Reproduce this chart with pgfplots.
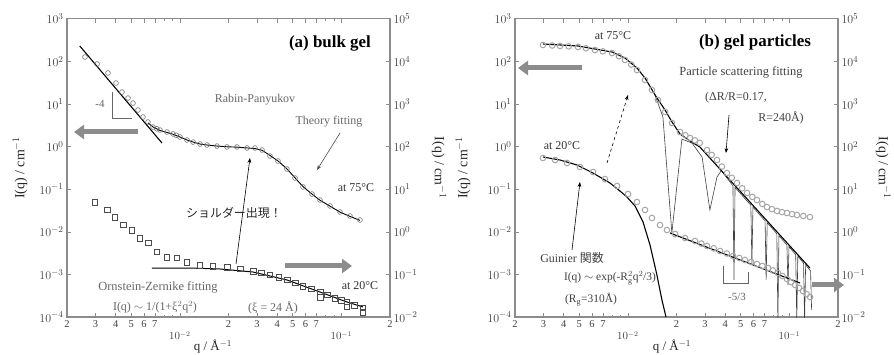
\documentclass[border=0pt]{standalone}
\usepackage{fontspec}
\setmainfont{Liberation Serif}
\newfontfamily\jp{Noto Sans CJK JP}
\usepackage{pgfplots}
\pgfplotsset{compat=1.18}
\usetikzlibrary{arrows.meta}
\definecolor{framegray}{gray}{0.55}
\definecolor{ann}{gray}{0.40}
\begin{document}
\begin{tikzpicture}
\useasboundingbox (0,0) rectangle (894bp,355bp);
% ================= (a) bulk gel =================
\begin{axis}[xmode=log, ymode=log, scale only axis, width=323bp, height=298.2bp,
    xmin=2e-3, xmax=0.2, ymin=1e-4, ymax=1e3, anchor=south west, at={(67bp,38bp)},
    axis line style={framegray, line width=1.2bp},
    tick style={framegray, line width=0.6bp},
    major tick length=4bp, minor tick length=2.5bp,
    xtick={0.002,0.003,0.004,0.005,0.006,0.007,0.02,0.03,0.04,0.05,0.06,0.07,0.2},
    xticklabels={2,3,4,5,6,7,2,3,4,5,6,7,2},
    minor xtick={0.008,0.009,0.08,0.09},
    extra x ticks={0.01,0.1},
    extra x tick labels={$10^{-2}$,$10^{-1}$},
    extra x tick style={tick label style={font=\fontsize{13}{14}\selectfont, yshift=-11bp}},
    x tick label style={font=\fontsize{10.5}{11}\selectfont, text=black!75},
    y tick label style={font=\fontsize{13}{14}\selectfont, text=black!75},
    ytick={1e-4,1e-3,1e-2,1e-1,1,10,100,1000}, yminorticks=false,
    ytick pos=left,
    label style={font=\fontsize{14}{15}\selectfont, text=black!85},
    ylabel={I(q) / cm$^{-1}$},
    xlabel={q / Å$^{-1}$},
    xlabel style={at={(axis description cs:0.452,0)}, anchor=center, font=\fontsize{13}{14}\selectfont, yshift=-30bp},
    ylabel style={at={(axis description cs:-0.1455,0.5)}, anchor=center}]
\addplot[black, line width=1.1bp] coordinates {(0.00240,230) (0.00774,1.22)};
\addplot[only marks, mark=o, mark size=2.4bp, black!55, mark options={line width=0.6bp}] coordinates {
(0.002585,126.8)(0.003069,86.9)(0.003589,53.5)(0.004022,31.1)(0.004381,19.1)(0.004773,13.8)(0.005126,10.5)(0.005502,7.23)(0.005908,4.95)(0.006345,3.78)(0.006815,2.88)(0.007200,2.62)(0.007532,2.45)(0.008321,2.20)(0.009064,1.98)(0.009500,1.85)(0.010016,1.68)(0.011066,1.43)(0.012059,1.28)(0.013323,1.15)(0.014720,1.09)(0.016975,1.03)(0.019573,0.98)(0.022573,0.98)(0.026033,0.927)(0.029178,0.927)(0.032247,0.832)(0.036141,0.601)(0.040503,0.459)(0.046036,0.298)(0.051616,0.183)(0.057848,0.113)(0.065766,0.0771)(0.073737,0.0557)(0.085020,0.0404)(0.09804,0.0292)(0.11304,0.0235)(0.13033,0.0189)};
\addplot[black, line width=0.9bp] coordinates {
(0.006345,3.6)(0.006815,2.9)(0.007532,2.4)(0.008321,2.15)(0.009064,1.95)(0.010016,1.68)(0.011066,1.43)(0.012059,1.28)(0.013323,1.15)(0.014720,1.09)(0.016975,1.03)(0.019573,0.99)(0.022573,0.97)(0.026033,0.93)(0.029178,0.90)(0.032247,0.82)(0.036141,0.62)(0.040503,0.46)(0.046036,0.30)(0.051616,0.185)(0.057848,0.115)(0.065766,0.077)(0.073737,0.055)(0.085020,0.040)(0.09804,0.029)(0.11304,0.023)(0.13033,0.0185)};
\end{axis}
\begin{axis}[xmode=log, ymode=log, scale only axis, width=323bp, height=298.2bp,
    xmin=2e-3, xmax=0.2, ymin=1e-2, ymax=1e5, anchor=south west, at={(67bp,38bp)},
    axis x line=none, axis y line*=right,
    axis line style={framegray, line width=1.2bp},
    tick style={framegray, line width=0.6bp},
    major tick length=4bp,
    y tick label style={font=\fontsize{13}{14}\selectfont, text=black!75},
    ytick={1e-2,1e-1,1,10,100,1000,1e4,1e5}, yminorticks=false,
    label style={font=\fontsize{14}{15}\selectfont, text=black!85},
    ylabel={I(q) / cm$^{-1}$},
    ylabel style={at={(axis description cs:1.152,0.5)}, anchor=center, rotate=180}]
\addplot[only marks, mark=square, mark size=2.8bp, black!70, mark options={line width=0.6bp}] coordinates {
(0.00298,5.0)(0.00354,3.25)(0.00396,2.22)(0.00445,1.45)(0.00505,1.10)(0.00566,0.71)(0.00635,0.546)(0.00721,0.336)(0.00832,0.256)(0.00959,0.243)(0.01106,0.195)(0.0133,0.166)(0.0160,0.157)(0.0196,0.149)(0.0236,0.134)(0.0284,0.120)(0.0320,0.108)(0.0361,0.097)(0.0410,0.085)(0.0461,0.074)(0.0520,0.063)(0.0578,0.053)(0.065,0.046)(0.0738,0.0387)(0.082,0.033)(0.0912,0.0279)(0.100,0.025)(0.108,0.0225)(0.120,0.019)(0.136,0.0163)(0.0738,0.0294)(0.108,0.0172)(0.136,0.0131)};
\addplot[black, line width=1bp] coordinates {
(0.00671,0.141)(0.01155,0.141)(0.01772,0.134)(0.02837,0.1138)(0.0460,0.0740)(0.0737,0.0386)(0.1083,0.0225)(0.1361,0.0172)};
\end{axis}
% ================= (b) gel particles =================
\begin{axis}[xmode=log, ymode=log, scale only axis, width=323bp, height=298.2bp,
    xmin=2e-3, xmax=0.2, ymin=1e-4, ymax=1e3, anchor=south west, at={(515bp,38bp)},
    axis line style={framegray, line width=1.2bp},
    tick style={framegray, line width=0.6bp},
    major tick length=4bp, minor tick length=2.5bp,
    xtick={0.002,0.003,0.004,0.005,0.006,0.007,0.02,0.03,0.04,0.05,0.06,0.07,0.2},
    xticklabels={2,3,4,5,6,7,2,3,4,5,6,7,2},
    minor xtick={0.008,0.009,0.08,0.09},
    extra x ticks={0.01,0.1},
    extra x tick labels={$10^{-2}$,$10^{-1}$},
    extra x tick style={tick label style={font=\fontsize{13}{14}\selectfont, yshift=-11bp}},
    x tick label style={font=\fontsize{10.5}{11}\selectfont, text=black!75},
    y tick label style={font=\fontsize{13}{14}\selectfont, text=black!75},
    ytick={1e-4,1e-3,1e-2,1e-1,1,10,100,1000}, yminorticks=false,
    ytick pos=left,
    label style={font=\fontsize{14}{15}\selectfont, text=black!85},
    ylabel={I(q) / cm$^{-1}$},
    xlabel={q / Å$^{-1}$},
    xlabel style={at={(axis description cs:0.486,0)}, anchor=center, font=\fontsize{13}{14}\selectfont, yshift=-30bp},
    ylabel style={at={(axis description cs:-0.161,0.5)}, anchor=center}]
\addplot[only marks, mark=o, mark size=2.8bp, black!35, mark options={line width=1bp}] coordinates {
(0.00298,243)(0.00340,236)(0.00380,230)(0.00430,225)(0.00491,218)(0.00550,203)(0.00625,185)(0.00700,172)(0.00798,157)(0.00880,132)(0.00960,108)(0.01050,84)(0.01138,62.8)(0.01276,36.6)(0.01410,21.3)(0.01535,12.4)(0.0170,6.5)(0.01876,3.58)(0.02104,2.20)(0.02270,1.85)(0.02427,1.59)(0.0260,1.40)(0.0279,1.22)(0.0309,0.83)(0.0330,0.64)(0.0356,0.484)(0.0382,0.34)(0.0411,0.240)(0.0440,0.185)(0.0474,0.140)(0.0510,0.105)(0.0547,0.0815)(0.0590,0.066)(0.0630,0.0557)(0.0680,0.045)(0.0726,0.0382)(0.0780,0.034)(0.0838,0.0308)(0.0900,0.029)(0.0966,0.0276)(0.1040,0.026)(0.1114,0.0248)(0.1220,0.0235)(0.134,0.0222)};
\addplot[black!75, line width=0.6bp] coordinates {
(0.01472,16.3)(0.01648,4.95)(0.01872,0.00938)(0.0216,1.5)(0.0250,1.2)(0.0288,0.57)(0.0322,0.0325)(0.0356,0.193)(0.0379,0.273)
(0.04472,0.12)(0.0454,0.00074)(0.04608,0.11)
(0.05772,0.042)(0.0586,0.00166)(0.05948,0.038)
(0.07072,0.018)(0.0718,0.00074)(0.07288,0.0163)
(0.08363,0.0090)(0.0849,0.00008)(0.08617,0.0081)
(0.09653,0.0049)(0.0980,0.000564)(0.09947,0.0045)
(0.10943,0.0029)(0.1111,0.00008)(0.11277,0.0027)
(0.12234,0.00183)(0.1242,0.00008)(0.12606,0.00168)
(0.13524,0.0012)(0.1373,0.000146)};
\addplot[black, line width=1.1bp] coordinates {
(0.00298,256)(0.00491,230)(0.00798,166)(0.00960,120)(0.01138,70)(0.01276,40.7)(0.01514,13.8)(0.0170,7.2)(0.01876,3.78)(0.02104,1.98)(0.02427,1.35)(0.0279,0.98)(0.134,0.00141)};
\end{axis}
\begin{axis}[xmode=log, ymode=log, scale only axis, width=323bp, height=298.2bp,
    xmin=2e-3, xmax=0.2, ymin=1e-2, ymax=1e5, anchor=south west, at={(515bp,38bp)},
    axis x line=none, axis y line*=right,
    axis line style={framegray, line width=1.2bp},
    tick style={framegray, line width=0.6bp},
    major tick length=4bp,
    y tick label style={font=\fontsize{13}{14}\selectfont, text=black!75},
    ytick={1e-2,1e-1,1,10,100,1000,1e4,1e5}, yminorticks=false,
    label style={font=\fontsize{14}{15}\selectfont, text=black!85},
    ylabel={I(q) / cm$^{-1}$},
    ylabel style={at={(axis description cs:1.14,0.5)}, anchor=center, rotate=180}]
\addplot[only marks, mark=o, mark size=2.8bp, black!35, mark options={line width=1bp}] coordinates {
(0.00298,54.0)(0.00354,48.4)(0.00420,41.2)(0.00505,33.2)(0.00608,25.3)(0.00721,17.3)(0.00857,11.9)(0.01002,7.71)(0.01138,5.01)(0.01276,3.25)(0.01409,2.11)(0.01581,1.44)(0.01745,1.10)(0.01961,0.887)(0.02259,0.714)(0.02606,0.608)(0.0285,0.53)(0.0309,0.465)(0.0340,0.41)(0.0372,0.354)(0.0410,0.31)(0.0448,0.270)(0.0490,0.243)(0.0531,0.218)(0.0580,0.196)(0.0630,0.175)(0.0680,0.158)(0.0738,0.141)(0.0790,0.124)(0.0849,0.108)(0.0905,0.092)(0.0966,0.078)(0.1024,0.066)(0.1084,0.0564)(0.1150,0.048)(0.1213,0.0407)(0.1280,0.0345)(0.1343,0.0294)};
\addplot[black, line width=1.1bp] coordinates {
(0.00298,57.0)(0.00380,48.4)(0.00484,37.0)(0.00608,24.0)(0.00774,14.0)(0.00893,9.08)(0.00987,6.56)(0.01107,4.03)(0.01241,1.70)(0.01371,0.490)(0.01513,0.0968)(0.01625,0.0251)(0.01722,0.01)};
\addplot[black, line width=1.1bp] coordinates {(0.01824,0.938)(0.1164,0.0628)};
\end{axis}
% ================= annotations =================
\begin{scope}[shift={(0,355bp)}, x=1bp, y=-1bp]
  % (a)
  \node[font=\fontsize{17}{18}\selectfont\bfseries] at (330,43) {(a) bulk gel};
  \draw[ann, line width=0.8bp] (112,92) -- (112,118) -- (132,118);
  \node[ann, font=\fontsize{11}{12}\selectfont] at (100,104) {-4};
  \draw[black!45, line width=5bp, -{Triangle[length=10bp,width=14bp]}] (138,132) -- (74,132);
  \node[ann, font=\fontsize{12}{13}\selectfont] at (255,100) {Rabin-Panyukov};
  \node[ann, font=\fontsize{12}{13}\selectfont] at (329,122) {Theory fitting};
  \draw[black!70, line width=0.6bp, -{Stealth[length=5bp]}] (340,133) -- (317,170);
  \node[black!80, font=\fontsize{12}{13}\selectfont] at (356,188) {at 75°C};
  \node[black!85, font=\fontsize{12}{13}\selectfont\jp] at (234,213) {ショルダー出現！};
  \draw[black, line width=0.6bp, -{Stealth[length=5bp]}] (236,264) -- (250,158);
  \draw[black!45, line width=5bp, -{Triangle[length=10bp,width=14bp]}] (285,266) -- (352,266);
  \node[black!80, font=\fontsize{12}{13}\selectfont] at (360,286) {at 20°C};
  \node[ann, font=\fontsize{12.5}{13}\selectfont] at (158,287) {Ornstein-Zernike fitting};
  \node[ann, font=\fontsize{12}{13}\selectfont] at (155,307) {I(q) $\sim$ 1/(1+ξ$^2$q$^2$)};
  \node[ann, font=\fontsize{12}{13}\selectfont] at (273,308) {(ξ = 24 Å)};
  % (b)
  \node[font=\fontsize{17}{18}\selectfont\bfseries] at (755,42) {(b) gel particles};
  \node[black!80, font=\fontsize{12}{13}\selectfont] at (613,36) {at 75°C};
  \node[black!80, font=\fontsize{12}{13}\selectfont] at (562,146) {at 20°C};
  \draw[black!45, line width=5bp, -{Triangle[length=10bp,width=14bp]}] (582,68) -- (518,68);
  \node[black!75, font=\fontsize{12.5}{13}\selectfont] at (741,72) {Particle scattering fitting};
  \node[black!75, font=\fontsize{12}{13}\selectfont] at (736,98) {(ΔR/R=0.17,};
  \node[black!75, font=\fontsize{12}{13}\selectfont] at (781,118) {R=240Å)};
  \draw[black, line width=0.6bp, -{Stealth[length=5bp]}] (729,115) -- (726,153);
  \draw[black, line width=0.6bp, dashed, -{Stealth[length=5bp]}] (607,163) -- (628,95);
  \draw[black, line width=0.6bp, -{Stealth[length=5bp]}] (572,250) -- (580,182);
  \node[black!75, font=\fontsize{12}{13}\selectfont] at (572,258) {Guinier {\jp 関数}};
  \node[black!75, font=\fontsize{11.5}{12}\selectfont] at (610,278) {I(q) $\sim$ exp(-R$_{\rm g}^{2}$q$^2$/3)};
  \node[black!75, font=\fontsize{11.5}{12}\selectfont] at (591,300) {(R$_{\rm g}$=310Å)};
  \draw[ann, line width=0.8bp] (723,266) -- (723,283) -- (748,283) -- (748,272);
  \node[ann, font=\fontsize{11}{12}\selectfont] at (737,297) {-5/3};
  \draw[black!45, line width=5bp, -{Triangle[length=10bp,width=14bp]}] (812,285) -- (844,285);
\end{scope}
\end{tikzpicture}
\end{document}
